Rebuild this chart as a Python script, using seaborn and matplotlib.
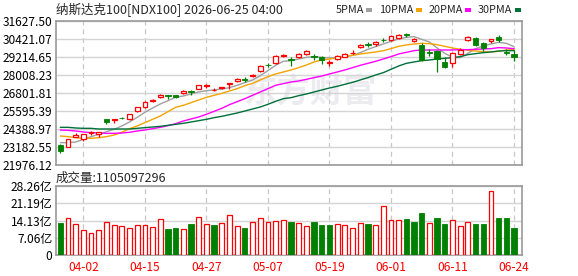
import numpy as np
import pandas as pd
import matplotlib
matplotlib.use("Agg")
import matplotlib.pyplot as plt
from matplotlib.patches import Rectangle
import seaborn as sns

# 纳斯达克100 日K线 + 均线 + 成交量

dates = ["03-30", "03-31", "04-01", "04-02", "04-06", "04-07", "04-08", "04-09", "04-10", "04-13",
         "04-14", "04-15", "04-16", "04-17", "04-20", "04-21", "04-22", "04-23", "04-24", "04-27",
         "04-28", "04-29", "04-30", "05-01", "05-04", "05-05", "05-06", "05-07", "05-08", "05-11",
         "05-12", "05-13", "05-14", "05-15", "05-18", "05-19", "05-20", "05-21", "05-22", "05-26",
         "05-27", "05-28", "05-29", "06-01", "06-02", "06-03", "06-04", "06-05", "06-08", "06-09",
         "06-10", "06-11", "06-12", "06-15", "06-16", "06-17", "06-18", "06-22", "06-23", "06-24"]

open_ = [23320, 23208, 23880, 23723, 24126, 24081, 25066, 24977, 25156, 25088,
         25581, 25895, 26275, 26544, 26656, 26656, 26790, 26924, 27104, 27260,
         26992, 27148, 27417, 27596, 27753, 27932, 28290, 28716, 28850, 29298,
         29074, 29231, 29432, 29276, 29231, 28828, 29074, 29253, 29477, 29925,
         30081, 30104, 30395, 30350, 30507, 30753, 30283, 30037, 29567, 29611,
         28895, 28806, 29455, 30350, 30485, 30149, 30328, 30597, 29567, 29410]
high = [23364, 23745, 24103, 24081, 24260, 24215, 25088, 25088, 25200, 25424,
        25895, 26253, 26432, 26745, 26701, 26701, 26992, 27014, 27372, 27395,
        27126, 27216, 27507, 27820, 27865, 28111, 28671, 28850, 29343, 29455,
        29208, 29499, 29701, 29410, 29298, 29029, 29365, 29499, 29701, 30104,
        30216, 30283, 30507, 30731, 30776, 30843, 30507, 30149, 29790, 29701,
        29208, 29567, 29813, 30641, 30597, 30216, 30440, 30708, 29768, 29701]
low = [22805, 23163, 23835, 23611, 24014, 23835, 24753, 24820, 25066, 25021,
       25536, 25805, 26186, 26499, 26432, 26477, 26745, 26701, 27059, 27148,
       26924, 27081, 27059, 27551, 27551, 27887, 28223, 28537, 28783, 29231,
       28649, 29164, 29343, 29052, 28783, 28649, 29007, 29208, 29455, 29835,
       29880, 29947, 30238, 30283, 30417, 30552, 30216, 28984, 29298, 28245,
       28514, 28581, 29365, 30305, 29992, 29656, 30149, 30261, 29343, 28984]
close = [22939, 23700, 23992, 24036, 24171, 24193, 24887, 25066, 25111, 25380,
         25850, 26186, 26342, 26678, 26611, 26521, 26947, 26880, 27328, 27350,
         27037, 27193, 27484, 27753, 27708, 28044, 28626, 28671, 29298, 29387,
         29007, 29455, 29634, 29208, 29052, 28895, 29298, 29432, 29522, 30059,
         30014, 30238, 30350, 30641, 30731, 30686, 30462, 29029, 29500, 29119,
         28581, 29477, 29723, 30574, 30059, 29835, 30417, 30372, 29500, 29253]

ma5 = [23477, 23477, 23521, 23700, 23880, 24036, 24215, 24372, 24596, 24865,
       25178, 25514, 25805, 26074, 26298, 26521, 26611, 26745, 26880, 26969,
       27014, 27081, 27171, 27328, 27507, 27686, 27977, 28313, 28671, 28940,
       28984, 29096, 29208, 29253, 29208, 29163, 29186, 29231, 29343, 29522,
       29746, 29925, 30104, 30283, 30440, 30552, 30596, 30417, 30238, 29835,
       29477, 29208, 29186, 29477, 29790, 29970, 30104, 30216, 30149, 29925]
ma10 = [23924, 23880, 23812, 23768, 23768, 23812, 23880, 23991, 24171, 24417,
        24596, 24820, 25044, 25268, 25559, 25850, 25984, 26163, 26342, 26521,
        26656, 26790, 26947, 27104, 27305, 27462, 27686, 27910, 28089, 28223,
        28358, 28514, 28693, 28895, 29029, 29096, 29163, 29253, 29343, 29432,
        29499, 29567, 29656, 29790, 29947, 30037, 30104, 30149, 30126, 30059,
        29947, 29835, 29746, 29678, 29634, 29589, 29567, 29611, 29701, 29723]
ma20 = [24327, 24305, 24260, 24193, 24148, 24126, 24103, 24103, 24126, 24171,
        24260, 24327, 24417, 24506, 24618, 24753, 24932, 25066, 25200, 25380,
        25581, 25783, 26029, 26230, 26432, 26656, 26880, 27104, 27328, 27440,
        27550, 27619, 27731, 27843, 27954, 28089, 28223, 28358, 28514, 28671,
        28805, 28940, 29096, 29253, 29432, 29544, 29656, 29701, 29701, 29701,
        29701, 29701, 29723, 29723, 29746, 29768, 29790, 29858, 29835, 29790]
ma30 = [24506, 24506, 24462, 24439, 24439, 24394, 24394, 24394, 24394, 24394,
        24439, 24484, 24529, 24574, 24641, 24708, 24775, 24865, 24954, 25044,
        25156, 25245, 25357, 25469, 25604, 25738, 25872, 26051, 26253, 26432,
        26499, 26633, 26745, 26880, 27014, 27148, 27260, 27395, 27529, 27686,
        27843, 28022, 28178, 28402, 28626, 28805, 28895, 28984, 29029, 29096,
        29141, 29186, 29253, 29387, 29455, 29522, 29567, 29634, 29656, 29656]

# 成交量（亿）
volume = [13.37, 15.16, 12.82, 10.20, 8.96, 10.20, 13.50, 12.27, 11.86, 11.03,
          12.27, 12.27, 11.44, 14.75, 10.75, 11.17, 10.60, 12.80, 15.60, 12.70,
          12.40, 13.10, 16.40, 11.86, 11.03, 13.50, 15.16, 13.65, 13.90, 14.30,
          13.70, 13.10, 11.86, 13.65, 12.40, 12.40, 12.70, 12.27, 11.03, 13.10,
          12.80, 12.27, 20.10, 14.30, 14.30, 14.90, 13.65, 17.40, 13.10, 15.30,
          12.80, 14.30, 11.86, 13.50, 12.80, 12.80, 26.30, 15.30, 15.30, 11.05]
last_volume = 1105097296

tick_dates = ["04-02", "04-15", "04-27", "05-07", "05-19", "06-01", "06-11", "06-24"]
price_ticks = [21976.12, 23182.55, 24388.97, 25595.39, 26801.81, 28008.23, 29214.65, 30421.07, 31627.50]
vol_ticks = [0, 7.06, 14.13, 21.19, 28.26]

ma_names = ["5PMA", "10PMA", "20PMA", "30PMA"]
ma_colors = {"5PMA": "#a0a0a0", "10PMA": "#f5a300", "20PMA": "#ff00ff", "30PMA": "#00703a"}
UP, DOWN = "#ff0000", "#008000"

sns.set_style("white")
plt.rcParams["font.family"] = ["Noto Sans CJK SC", "DejaVu Sans"]

W, H = 578, 276
fig = plt.figure(figsize=(W / 100, H / 100), dpi=100)


def fx(px):
    return px / W


def fy(py):
    return 1 - py / H


ax = fig.add_axes([fx(56), fy(165), fx(522) - fx(56), fy(21.3) - fy(165)])
axv = fig.add_axes([fx(56), fy(255.3), fx(522) - fx(56), fy(186) - fy(255.3)])

n = len(dates)
x = np.arange(n)
o, h, l, c = map(np.array, (open_, high, low, close))
up = c >= o

# 均线
ma_df = pd.DataFrame({"idx": x, "5PMA": ma5, "10PMA": ma10, "20PMA": ma20, "30PMA": ma30})
ma_long = ma_df.melt(id_vars="idx", var_name="name", value_name="value")
sns.lineplot(data=ma_long, x="idx", y="value", hue="name", palette=ma_colors,
             estimator=None, legend=False, linewidth=1.0, ax=ax, zorder=2)

# K线
cols = np.where(up, UP, DOWN)
ax.vlines(x, l, h, colors=cols, linewidth=0.9, zorder=3)
bottoms = np.minimum(o, c)
heights = np.maximum(np.abs(c - o), 1)
ax.bar(x[up], heights[up], bottom=bottoms[up], width=0.62, facecolor="white",
       edgecolor=UP, linewidth=0.9, zorder=4)
ax.bar(x[~up], heights[~up], bottom=bottoms[~up], width=0.68, facecolor=DOWN,
       edgecolor=DOWN, linewidth=0.6, zorder=4)

# 水印
ax.text(0.545, 0.5, "东方财富", transform=ax.transAxes, ha="center", va="center",
        fontsize=24, fontweight="bold", color="#ebebf0", zorder=0)

# 成交量：颜色按与前一日收盘比较
vol_up = np.array([False] + [c1 >= c0 for c0, c1 in zip(close[:-1], close[1:])])
v = np.array(volume)
axv.bar(x[vol_up], v[vol_up], width=0.62, facecolor="white", edgecolor=UP, linewidth=0.9, zorder=3)
axv.bar(x[~vol_up], v[~vol_up], width=0.68, facecolor=DOWN, edgecolor=DOWN, linewidth=0.6, zorder=3)

tick_pos = [dates.index(d) for d in tick_dates]
for a in (ax, axv):
    a.set_xlim(-0.56, n + 0.04)
    a.set_xticks(tick_pos)
    a.grid(axis="y", color="#d4d4d4", linewidth=1.0, linestyle="-")
    a.grid(axis="x", color="#c8c8c8", linewidth=0.9, linestyle=(0, (4, 3)))
    a.set_axisbelow(True)
    for s in a.spines.values():
        s.set_color("#999999")
        s.set_linewidth(1.2)
    a.set_xlabel("")
    a.set_ylabel("")
    a.tick_params(length=0, labelsize=8.6, colors="black", pad=2.5)

ax.set_ylim(price_ticks[0], price_ticks[-1])
ax.set_yticks(price_ticks)
ax.set_yticklabels([f"{t:.2f}" for t in price_ticks])
ax.tick_params(labelbottom=False)

axv.set_ylim(0, vol_ticks[-1])
axv.set_yticks(vol_ticks)
axv.set_yticklabels(["0"] + [f"{t:.2f}亿" for t in vol_ticks[1:]])
axv.set_xticklabels(tick_dates, color="#ff0000")
axv.tick_params(axis="x", pad=4)

# 标题、图例、成交量文字
fig.text(fx(56), fy(10), "纳斯达克100[NDX100] 2026-06-25 04:00", fontsize=9, va="center", ha="left")
renderer = fig.canvas.get_renderer()
cur = 336
for name in ma_names:
    t = fig.text(fx(cur), fy(10), name, fontsize=7.8, va="center", ha="left")
    ext = t.get_window_extent(renderer=renderer)
    mx = ext.x1 + 2
    fig.add_artist(Rectangle((fx(mx), fy(11.5)), fx(6), 3 / H, transform=fig.transFigure,
                             facecolor=ma_colors[name], edgecolor="none"))
    cur = mx + 13
fig.text(fx(56), fy(178), f"成交量:{last_volume}", fontsize=9, va="center", ha="left")

fig.savefig("out.png", dpi=100)
